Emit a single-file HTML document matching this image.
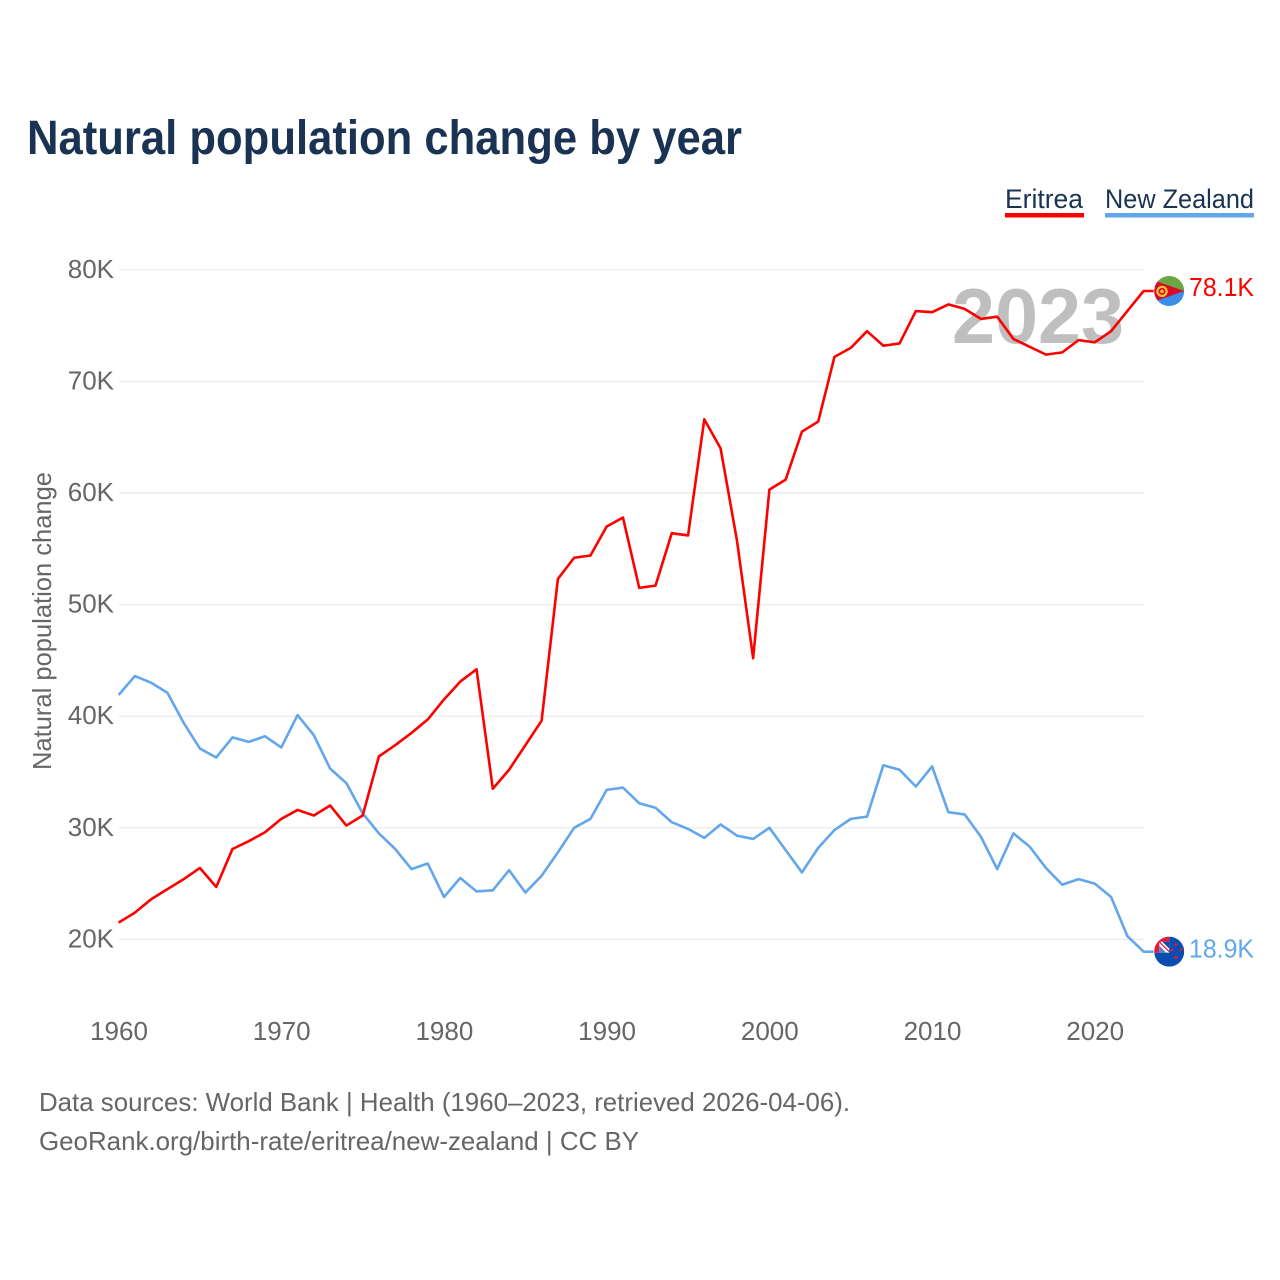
<!DOCTYPE html>
<html lang="en">
<head>
<meta charset="utf-8">
<title>Natural population change by year</title>
<style>
html,body{margin:0;padding:0;background:#fff;}
svg{display:block;}
text{font-family:"Liberation Sans",sans-serif;}
</style>
</head>
<body>
<svg id="chart" xmlns="http://www.w3.org/2000/svg" width="1280" height="1280" viewBox="0 0 1280 1280">
  <rect width="1280" height="1280" fill="#ffffff"/>
  <text x="27" y="154" font-size="48" font-weight="700" fill="#1a3352" textLength="715" lengthAdjust="spacingAndGlyphs">Natural population change by year</text>

  <g>
    <g>
      <text x="1005" y="208" font-size="27" fill="#1a3352" textLength="78" lengthAdjust="spacingAndGlyphs">Eritrea</text>
      <rect x="1005" y="213" width="79" height="4.5" fill="#ff0000"/>
    </g>
    <g>
      <text x="1105" y="208" font-size="27" fill="#1a3352" textLength="149" lengthAdjust="spacingAndGlyphs">New Zealand</text>
      <rect x="1105" y="213" width="149" height="4.5" fill="#62a6ec"/>
    </g>
  </g>

  <g id="grid"></g>
  <g id="yticks"></g>
  <g id="xticks"></g>

  <text transform="translate(51 770) rotate(-90)" font-size="26" fill="#666666" textLength="298" lengthAdjust="spacingAndGlyphs">Natural population change</text>

  <text x="952" y="343" font-size="78" font-weight="700" fill="#bfbfbf" textLength="172" lengthAdjust="spacingAndGlyphs">2023</text>

  <g id="series"></g>

  <defs>
    <clipPath id="flag-clip"><circle cx="0" cy="0" r="15"/></clipPath>
  </defs>

  <g id="flag-eritrea">
    <g clip-path="url(#flag-clip)">
      <rect x="-15" y="-15" width="30" height="15" fill="#6ea644"/>
      <rect x="-15" y="0" width="30" height="15" fill="#3a8eea"/>
      <polygon points="-22,-13 15,0 -22,13" fill="#d90a2c"/>
      <circle cx="-7.2" cy="0.4" r="4.6" fill="none" stroke="#f4c430" stroke-width="2.2"/>
      <circle cx="-7.2" cy="0.4" r="1.8" fill="#f4c430"/>
    </g>
  </g>

  <g id="flag-new-zealand">
    <g clip-path="url(#flag-clip)">
      <rect x="-15" y="-15" width="30" height="30" fill="#0a4db0"/>
      <rect x="-15" y="-15" width="15" height="16" fill="#ffffff"/>
      <rect x="-15" y="-15" width="15" height="5" fill="#e8173a"/>
      <rect x="-15" y="-15" width="5" height="16" fill="#e8173a"/>
      <polygon points="-7,-10 0,-10 0,-3" fill="#0a4db0"/>
      <polygon points="-10,-6 -10,1 -3,1" fill="#5a7fc4"/>
      <line x1="-10" y1="-10" x2="0" y2="0" stroke="#e8173a" stroke-width="1.2"/>
      <circle cx="6.7" cy="-7" r="1.5" fill="#e8173a"/>
      <circle cx="2.7" cy="-1.7" r="1.4" fill="#e8173a"/>
      <circle cx="11.7" cy="-2" r="1.4" fill="#e8173a"/>
      <circle cx="6.7" cy="5.7" r="1.6" fill="#e8173a"/>
    </g>
  </g>

  <text id="value-eritrea" x="1189" font-size="26" fill="#ff0000" textLength="65" lengthAdjust="spacingAndGlyphs"></text>
  <text id="value-new-zealand" x="1189" font-size="26" fill="#62a6ec" textLength="65" lengthAdjust="spacingAndGlyphs"></text>

  <g>
    <text x="39" y="1111" font-size="26" fill="#666666" textLength="811" lengthAdjust="spacingAndGlyphs">Data sources: World Bank | Health (1960–2023, retrieved 2026-04-06).</text>
    <text x="39" y="1150" font-size="26" fill="#666666" textLength="600" lengthAdjust="spacingAndGlyphs">GeoRank.org/birth-rate/eritrea/new-zealand | CC BY</text>
  </g>
</svg>

<script>
const years = [1960,1961,1962,1963,1964,1965,1966,1967,1968,1969,1970,1971,1972,1973,1974,1975,1976,1977,1978,1979,1980,1981,1982,1983,1984,1985,1986,1987,1988,1989,1990,1991,1992,1993,1994,1995,1996,1997,1998,1999,2000,2001,2002,2003,2004,2005,2006,2007,2008,2009,2010,2011,2012,2013,2014,2015,2016,2017,2018,2019,2020,2021,2022,2023];
const eritreaValues = [21.5,22.4,23.6,24.5,25.4,26.4,24.7,28.1,28.8,29.6,30.8,31.6,31.1,32.0,30.2,31.1,36.4,37.4,38.5,39.7,41.5,43.1,44.2,33.5,35.2,37.4,39.6,52.3,54.2,54.4,57.0,57.8,51.5,51.7,56.4,56.2,66.6,64.0,55.8,45.2,60.3,61.2,65.5,66.4,72.2,73.0,74.5,73.2,73.4,76.3,76.2,76.9,76.5,75.6,75.8,73.8,73.1,72.4,72.6,73.7,73.5,74.5,76.3,78.1];
const newZealandValues = [41.9,43.6,43.0,42.1,39.4,37.1,36.3,38.1,37.7,38.2,37.2,40.1,38.3,35.3,34.0,31.3,29.5,28.1,26.3,26.8,23.8,25.5,24.3,24.4,26.2,24.2,25.7,27.8,30.0,30.8,33.4,33.6,32.2,31.8,30.5,29.9,29.1,30.3,29.3,29.0,30.0,28.0,26.0,28.2,29.8,30.8,31.0,35.6,35.2,33.7,35.5,31.4,31.2,29.2,26.3,29.5,28.3,26.4,24.9,25.4,25.0,23.8,20.3,18.9];
const yTickValues = [20,30,40,50,60,70,80];
const yTickLabels = ['20K','30K','40K','50K','60K','70K','80K'];
const xTickValues = [1960,1970,1980,1990,2000,2010,2020];
const eritreaEndLabel = '78.1K';
const newZealandEndLabel = '18.9K';

const NS = 'http://www.w3.org/2000/svg';
function xScale(year) { return 118.6 + (year - 1960) * 16.27; }
function yScale(value) { return 939.4 - (value - 20) * 11.16; }

const gridGroup = document.getElementById('grid');
const yTickGroup = document.getElementById('yticks');
const xTickGroup = document.getElementById('xticks');
const seriesGroup = document.getElementById('series');

yTickValues.forEach(function (value, i) {
  const line = document.createElementNS(NS, 'line');
  
  
  line.setAttribute('x1', 119);
  line.setAttribute('x2', 1144);
  line.setAttribute('y1', yScale(value));
  line.setAttribute('y2', yScale(value));
  line.setAttribute('stroke', '#ececec');
  line.setAttribute('stroke-width', '1.4');
  gridGroup.appendChild(line);

  const label = document.createElementNS(NS, 'text');
  
  
  label.setAttribute('x', 114);
  label.setAttribute('y', yScale(value) + 8);
  label.setAttribute('text-anchor', 'end');
  label.setAttribute('font-size', '26');
  label.setAttribute('fill', '#666666');
  label.textContent = yTickLabels[i];
  yTickGroup.appendChild(label);
});

xTickValues.forEach(function (year) {
  const label = document.createElementNS(NS, 'text');
  
  
  label.setAttribute('x', xScale(year) + 0.4);
  label.setAttribute('y', 1040);
  label.setAttribute('text-anchor', 'middle');
  label.setAttribute('font-size', '26');
  label.setAttribute('fill', '#666666');
  label.textContent = year;
  xTickGroup.appendChild(label);
});

function linePoints(values) {
  const pts = values.map(function (v, i) {
    return xScale(years[i]).toFixed(2) + ',' + yScale(v).toFixed(2);
  });
  const lastIndex = values.length - 1;
  pts.push((xScale(years[lastIndex]) + 10).toFixed(2) + ',' + yScale(values[lastIndex]).toFixed(2));
  return pts.join(' ');
}

const newZealandLine = document.createElementNS(NS, 'polyline');


newZealandLine.setAttribute('points', linePoints(newZealandValues));
newZealandLine.setAttribute('fill', 'none');
newZealandLine.setAttribute('stroke', '#62a6ec');
newZealandLine.setAttribute('stroke-width', '2.6');
newZealandLine.setAttribute('stroke-linejoin', 'round');
seriesGroup.appendChild(newZealandLine);

const eritreaLine = document.createElementNS(NS, 'polyline');


eritreaLine.setAttribute('points', linePoints(eritreaValues));
eritreaLine.setAttribute('fill', 'none');
eritreaLine.setAttribute('stroke', '#ff0000');
eritreaLine.setAttribute('stroke-width', '2.6');
eritreaLine.setAttribute('stroke-linejoin', 'round');
seriesGroup.appendChild(eritreaLine);

const eritreaLast = eritreaValues[eritreaValues.length - 1];
const newZealandLast = newZealandValues[newZealandValues.length - 1];
const flagX = xScale(years[years.length - 1]) + 25.6;

document.getElementById('flag-eritrea').setAttribute('transform', 'translate(' + flagX + ' ' + yScale(eritreaLast) + ')');
document.getElementById('flag-new-zealand').setAttribute('transform', 'translate(' + flagX + ' ' + yScale(newZealandLast) + ')');

const eritreaValueText = document.getElementById('value-eritrea');
eritreaValueText.setAttribute('y', yScale(eritreaLast) + 5);
eritreaValueText.textContent = eritreaEndLabel;

const newZealandValueText = document.getElementById('value-new-zealand');
newZealandValueText.setAttribute('y', yScale(newZealandLast) + 6);
newZealandValueText.textContent = newZealandEndLabel;
</script>
</body>
</html>
